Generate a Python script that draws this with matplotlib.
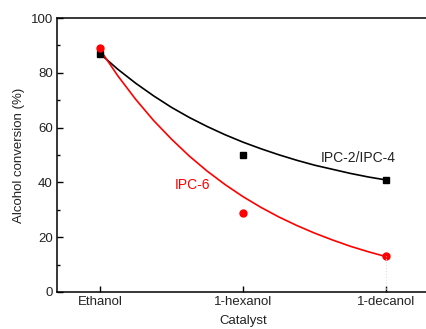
import numpy as np
import matplotlib
matplotlib.use("Agg")
import matplotlib.pyplot as plt

plt.rcParams['font.family'] = ['Liberation Sans', 'DejaVu Sans']

# categories and measured points
catalysts = ["Ethanol", "1-hexanol", "1-decanol"]
ipc24 = [87, 50, 41]
ipc6 = [89, 29, 13]

# fitted curves (positions 0..2 in steps of 0.125)
curve_x = [0, 0.125, 0.25, 0.375, 0.5, 0.625, 0.75, 0.875, 1.0,
           1.125, 1.25, 1.375, 1.5, 1.625, 1.75, 1.875, 2.0]
curve_ipc24 = [87.0, 81.3, 76.2, 71.6, 67.4, 63.7, 60.4, 57.4, 54.7,
               52.3, 50.1, 48.1, 46.3, 44.8, 43.3, 42.0, 40.9]
curve_ipc6 = [88.5, 78.9, 70.3, 62.6, 55.8, 49.6, 44.1, 39.2, 34.8,
              30.9, 27.4, 24.3, 21.5, 19.0, 16.7, 14.7, 12.9]

fig = plt.figure(figsize=(4.26, 3.29), dpi=100)
ax = fig.add_axes([0.134, 0.1125, 0.873, 0.8325])

x = np.arange(len(catalysts))
txt = "#222222"

ax.plot(curve_x, curve_ipc24, color="black", lw=1.2)
ax.plot(curve_x, curve_ipc6, color="red", lw=1.2)
ax.plot(x, ipc24, "s", color="black", ms=4.5)
ax.plot(x, ipc6, "o", color="red", ms=5)

# faint guide under the last point
ax.plot([2, 2], [0, ipc6[2]], ls=":", color="#dddddd", lw=0.8)

ax.text(1.54, 49, "IPC-2/IPC-4", color=txt, fontsize=10, va="center")
ax.text(0.52, 39, "IPC-6", color="red", fontsize=10, va="center")

ax.set_xlim(-0.3, 2.3)
ax.set_ylim(0, 100)
ax.set_xticks(x)
ax.set_xticklabels(catalysts)
ax.set_yticks([0, 20, 40, 60, 80, 100])
ax.set_yticks([10, 30, 50, 70, 90], minor=True)
ax.tick_params(direction="in", labelsize=9.5, labelcolor=txt, length=4, width=1, pad=3)
ax.tick_params(which="minor", direction="in", length=2.5, width=1)
ax.tick_params(axis="x", pad=3)

ax.set_xlabel("Catalyst", fontsize=9.5, color=txt, labelpad=5)
ax.set_ylabel("Alcohol conversion (%)", fontsize=9.5, color=txt, labelpad=4)

for s in ax.spines.values():
    s.set_linewidth(1.1)

fig.savefig("out.png", dpi=100)
